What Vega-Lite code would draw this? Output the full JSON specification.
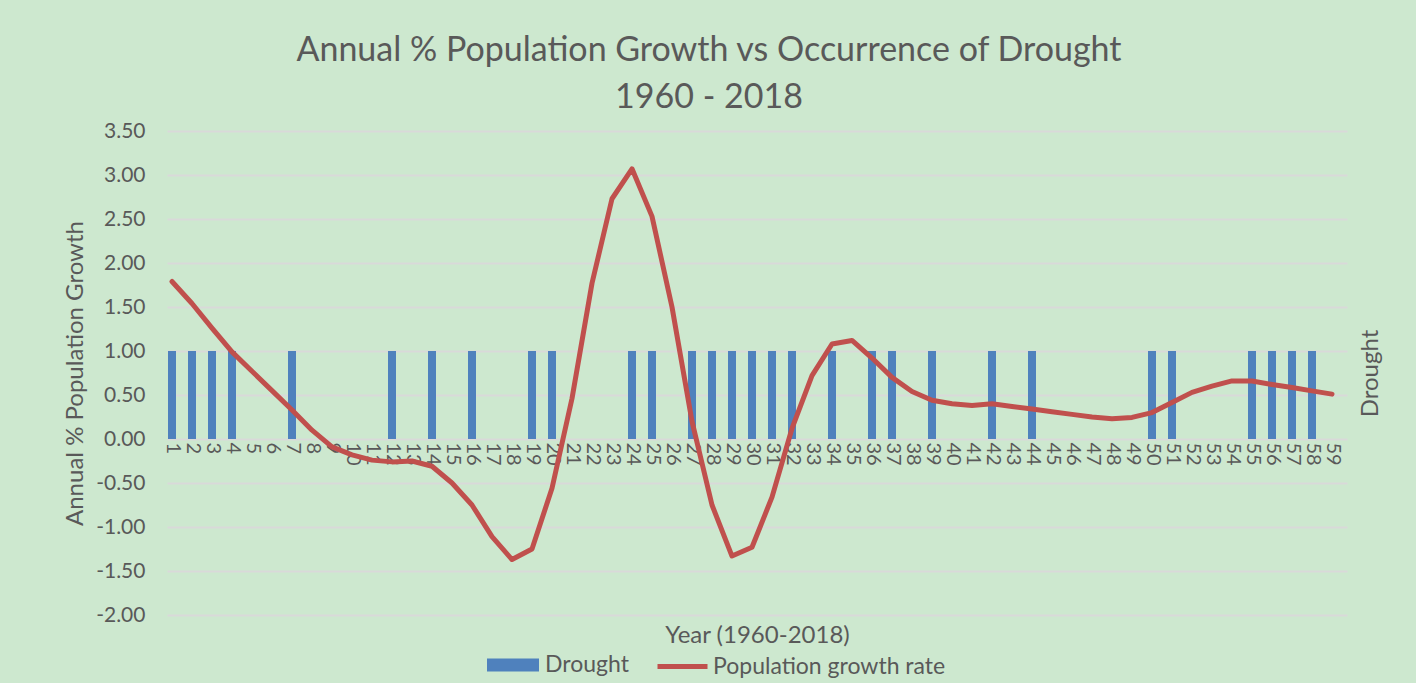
{
  "$schema": "https://vega.github.io/schema/vega-lite/v6.json",
  "width": 1180,
  "height": 484,
  "autosize": "none",
  "padding": {"left": 167, "top": 131, "right": 69, "bottom": 68},
  "background": "#CDE8CF",
  "config": {
    "view": {"stroke": null},
    "font": "Lato",
    "axis": {"labelColor": "#595959", "titleColor": "#595959", "titleFontWeight": "normal", "labelFont": "Lato", "titleFont": "Lato", "labelOverlap": false},
    "legend": {"labelColor": "#595959", "labelFont": "Lato", "labelLimit": 400}
  },
  "title": {
    "text": ["Annual % Population Growth vs Occurrence of Drought", "1960 - 2018"],
    "fontSize": 34,
    "fontWeight": "normal",
    "color": "#595959",
    "font": "Lato",
    "lineHeight": 47,
    "anchor": "middle",
    "dx": -48,
    "offset": 5
  },
  "data": {
    "values": [
      {"year": 1, "drought": 1, "growth": 1.79},
      {"year": 2, "drought": 1, "growth": 1.54},
      {"year": 3, "drought": 1, "growth": 1.26},
      {"year": 4, "drought": 1, "growth": 0.99},
      {"year": 5, "drought": 0, "growth": 0.77},
      {"year": 6, "drought": 0, "growth": 0.55},
      {"year": 7, "drought": 1, "growth": 0.33},
      {"year": 8, "drought": 0, "growth": 0.10},
      {"year": 9, "drought": 0, "growth": -0.09},
      {"year": 10, "drought": 0, "growth": -0.18},
      {"year": 11, "drought": 0, "growth": -0.24},
      {"year": 12, "drought": 1, "growth": -0.26},
      {"year": 13, "drought": 0, "growth": -0.25},
      {"year": 14, "drought": 1, "growth": -0.31},
      {"year": 15, "drought": 0, "growth": -0.50},
      {"year": 16, "drought": 1, "growth": -0.75},
      {"year": 17, "drought": 0, "growth": -1.11},
      {"year": 18, "drought": 0, "growth": -1.37},
      {"year": 19, "drought": 1, "growth": -1.25},
      {"year": 20, "drought": 1, "growth": -0.56},
      {"year": 21, "drought": 0, "growth": 0.46},
      {"year": 22, "drought": 0, "growth": 1.77},
      {"year": 23, "drought": 0, "growth": 2.73},
      {"year": 24, "drought": 1, "growth": 3.07},
      {"year": 25, "drought": 1, "growth": 2.53},
      {"year": 26, "drought": 0, "growth": 1.50},
      {"year": 27, "drought": 1, "growth": 0.20},
      {"year": 28, "drought": 1, "growth": -0.75},
      {"year": 29, "drought": 1, "growth": -1.33},
      {"year": 30, "drought": 1, "growth": -1.23},
      {"year": 31, "drought": 1, "growth": -0.66},
      {"year": 32, "drought": 1, "growth": 0.12},
      {"year": 33, "drought": 0, "growth": 0.72},
      {"year": 34, "drought": 1, "growth": 1.08},
      {"year": 35, "drought": 0, "growth": 1.12},
      {"year": 36, "drought": 1, "growth": 0.92},
      {"year": 37, "drought": 1, "growth": 0.70},
      {"year": 38, "drought": 0, "growth": 0.54},
      {"year": 39, "drought": 1, "growth": 0.44},
      {"year": 40, "drought": 0, "growth": 0.40},
      {"year": 41, "drought": 0, "growth": 0.38},
      {"year": 42, "drought": 1, "growth": 0.40},
      {"year": 43, "drought": 0, "growth": 0.37},
      {"year": 44, "drought": 1, "growth": 0.34},
      {"year": 45, "drought": 0, "growth": 0.31},
      {"year": 46, "drought": 0, "growth": 0.28},
      {"year": 47, "drought": 0, "growth": 0.25},
      {"year": 48, "drought": 0, "growth": 0.23},
      {"year": 49, "drought": 0, "growth": 0.245},
      {"year": 50, "drought": 1, "growth": 0.30},
      {"year": 51, "drought": 1, "growth": 0.415},
      {"year": 52, "drought": 0, "growth": 0.53},
      {"year": 53, "drought": 0, "growth": 0.60},
      {"year": 54, "drought": 0, "growth": 0.66},
      {"year": 55, "drought": 1, "growth": 0.66},
      {"year": 56, "drought": 1, "growth": 0.62},
      {"year": 57, "drought": 1, "growth": 0.585},
      {"year": 58, "drought": 1, "growth": 0.547},
      {"year": 59, "drought": 0, "growth": 0.51}
    ]
  },
  "encoding": {
    "x": {
      "field": "year", "type": "quantitative",
      "scale": {"domain": [1, 59.5], "nice": false, "zero": false},
      "axis": {
        "values": [1,2,3,4,5,6,7,8,9,10,11,12,13,14,15,16,17,18,19,20,21,22,23,24,25,26,27,28,29,30,31,32,33,34,35,36,37,38,39,40,41,42,43,44,45,46,47,48,49,50,51,52,53,54,55,56,57,58,59],
        "format": "d",
        "labelAngle": 90,
        "labelAlign": "left",
        "labelBaseline": "middle",
        "labelFontSize": 20,
        "labelPadding": 3,
        "labelOverlap": false,
        "labelSeparation": 0,
        "labelFlush": false,
        "ticks": false,
        "domain": false,
        "grid": false,
        "offset": -176,
        "title": "Year (1960-2018)",
        "titleFontSize": 24,
        "titleY": 196,
        "titleBaseline": "middle"
      }
    }
  },
  "layer": [
    {
      "transform": [{"filter": "datum.drought == 1"}],
      "mark": {"type": "bar", "size": 8, "clip": true, "color": "#4F81BD"},
      "encoding": {
        "y": {
          "field": "drought", "type": "quantitative",
          "scale": {"domain": [-2, 3.5], "nice": false, "zero": false},
          "axis": {
            "orient": "right",
            "labels": false,
            "ticks": false,
            "domain": false,
            "grid": false,
            "title": "Drought",
            "titleAngle": 270,
            "titleFontSize": 24,
            "titleX": 23,
            "titleBaseline": "middle"
          }
        },
        "y2": {"datum": 0},
        "fill": {
          "datum": "Drought",
          "scale": {"domain": ["Drought"], "range": ["#4F81BD"]},
          "legend": {
            "title": null,
            "orient": "none",
            "legendX": 320,
            "legendY": 508,
            "symbolType": "M-1,-0.25H1V0.25H-1Z",
            "symbolSize": 2704,
            "symbolStrokeWidth": 0,
            "labelFontSize": 23,
            "labelOffset": 6
          }
        }
      }
    },
    {
      "mark": {"type": "line", "color": "#C0504D", "strokeWidth": 5, "strokeCap": "round", "strokeJoin": "round"},
      "encoding": {
        "y": {
          "field": "growth", "type": "quantitative",
          "scale": {"domain": [-2, 3.5], "nice": false, "zero": false},
          "axis": {
            "values": [-2, -1.5, -1, -0.5, 0, 0.5, 1, 1.5, 2, 2.5, 3, 3.5],
            "labelExpr": "replace(format(datum.value, '.2f'), '\u2212', '-')",
            "labelFontSize": 21,
            "labelPadding": 22,
            "ticks": false,
            "domain": false,
            "grid": true,
            "gridColor": "#D9D9D9",
            "gridWidth": 1.8,
            "title": "Annual % Population Growth",
            "titleFontSize": 24,
            "titleX": -92,
            "titleBaseline": "middle"
          }
        },
        "stroke": {
          "datum": "Population growth rate",
          "scale": {"domain": ["Population growth rate"], "range": ["#C0504D"]},
          "legend": {
            "title": null,
            "orient": "none",
            "legendX": 488,
            "legendY": 508,
            "symbolType": "stroke",
            "symbolSize": 2500,
            "symbolStrokeWidth": 5,
            "labelFontSize": 23,
            "labelOffset": 3
          }
        }
      }
    }
  ],
  "resolve": {"scale": {"y": "independent"}}
}
